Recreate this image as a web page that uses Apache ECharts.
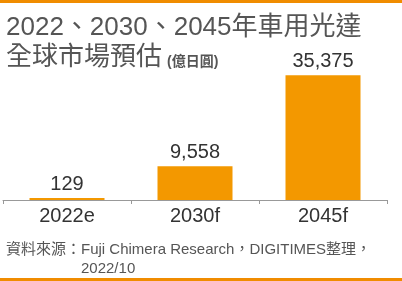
<!DOCTYPE html>
<html>
<head>
<meta charset="utf-8">
<script src="https://cdn.jsdelivr.net/npm/echarts@6/dist/echarts.min.js"></script>
<style>
html,body{margin:0;padding:0;background:#fff;}
#main{width:402px;height:281px;}
</style>
</head>
<body>
<div id="main"></div>
<script>
var categories = ['2022e', '2030f', '2045f'];
var values = [129, 9558, 35375];
var titleLine1 = '2022、2030、2045年車用光達';
var titleLine2 = '全球市場預估';
var unitText = '(億日圓)';
var sourceLine1 = '資料來源：Fuji Chimera Research，DIGITIMES整理，';
var sourceLine2 = '2022/10';

var FONT = "'Liberation Sans', 'Noto Sans CJK TC', sans-serif";
var chart = echarts.init(document.getElementById('main'), null, {renderer: 'canvas'});
chart.setOption({
  backgroundColor: '#ffffff',
  animation: false,
  title: [
    {text: titleLine1, left: 1, top: 8, textStyle: {fontFamily: FONT, fontSize: 26, fontWeight: 'normal', color: '#555555', lineHeight: 30}},
    {text: titleLine2, left: 1, top: 38, textStyle: {fontFamily: FONT, fontSize: 26, fontWeight: 'normal', color: '#555555', lineHeight: 30}},
    {text: unitText, left: 162, top: 49, textStyle: {fontFamily: FONT, fontSize: 14, fontWeight: 'bold', color: '#555555', lineHeight: 16}},
    {text: sourceLine1, left: 1, top: 236, textStyle: {fontFamily: FONT, fontSize: 15, fontWeight: 'normal', color: '#555555', lineHeight: 18}},
    {text: sourceLine2, left: 76, top: 255, textStyle: {fontFamily: FONT, fontSize: 15, fontWeight: 'normal', color: '#555555', lineHeight: 18}}
  ],
  graphic: [
    {type: 'rect', left: 0, top: 0, shape: {width: 402, height: 3}, style: {fill: '#f08c00'}},
    {type: 'rect', left: 0, top: 278, shape: {width: 402, height: 3}, style: {fill: '#f08c00'}}
  ],
  grid: {left: 3, right: 15, top: 59, bottom: 81, containLabel: false},
  xAxis: {
    type: 'category',
    data: categories,
    axisLine: {lineStyle: {color: '#999999', width: 1}},
    axisTick: {show: true, length: 4, lineStyle: {color: '#999999'}},
    axisLabel: {fontFamily: FONT, fontSize: 20, color: '#333333', margin: 6}
  },
  yAxis: {type: 'value', min: 0, max: 40000, show: false, splitLine: {show: false}},
  series: [{
    type: 'bar',
    data: values,
    barWidth: 75,
    barMinHeight: 2,
    itemStyle: {color: '#f39800'},
    label: {
      show: true, position: 'top', distance: 4,
      fontFamily: FONT, fontSize: 20, color: '#333333',
      formatter: function (p) { return p.value.toLocaleString('en-US'); }
    }
  }]
});
</script>
</body>
</html>
